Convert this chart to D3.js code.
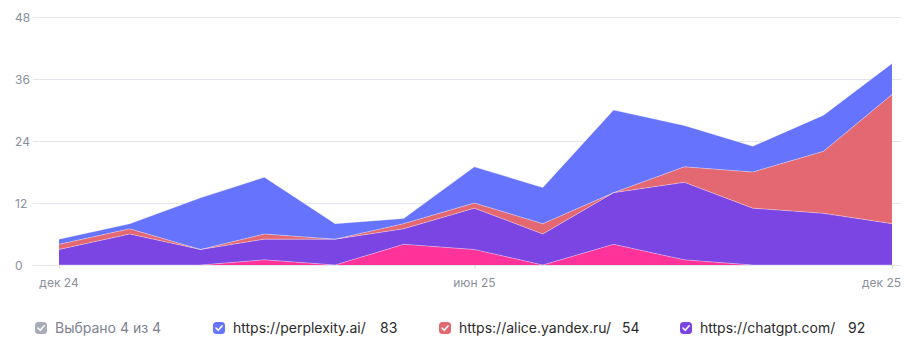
<!DOCTYPE html>
<html>
<head>
<meta charset="utf-8">
<script src="https://cdn.jsdelivr.net/npm/d3@7"></script>
<style>
  html, body { margin: 0; padding: 0; background: #fff; }
  svg { display: block; font-family: Inter, "Noto Sans", sans-serif; }
</style>
</head>
<body>
<svg id="chart" width="912" height="349"></svg>
<script>
// Monthly points, dec 24 .. dec 25
const months = ["2024-12","2025-01","2025-02","2025-03","2025-04","2025-05","2025-06",
                "2025-07","2025-08","2025-09","2025-10","2025-11","2025-12"];
// Series, stacked bottom to top
const other      = [0, 0, 0, 1, 0, 4, 3, 0, 4, 1, 0, 0, 0];
const chatgpt    = [3, 6, 3, 4, 5, 3, 8, 6, 10, 15, 11, 10, 8];
const alice      = [1, 1, 0, 1, 0, 1, 1, 2, 0, 3, 7, 12, 25];
const perplexity = [1, 1, 10, 11, 3, 1, 7, 7, 16, 8, 5, 7, 6];

const yTicks = [0, 12, 24, 36, 48];
const xTickLabels = ["дек 24", "июн 25", "дек 25"];
const xTickMonths = ["2024-12", "2025-06", "2025-12"];

const seriesKeys = ["other", "chatgpt", "alice", "perplexity"];
const seriesColors = { other: "#ff3399", chatgpt: "#7a45e3", alice: "#e46872", perplexity: "#6674fd" };

const legendItems = [
  { key: "perplexity", label: "https://perplexity.ai/", total: 83 },
  { key: "alice", label: "https://alice.yandex.ru/", total: 54 },
  { key: "chatgpt", label: "https://chatgpt.com/", total: 92 }
];

const parse = d3.timeParse("%Y-%m");
const rows = months.map((m, i) => ({
  date: parse(m), other: other[i], chatgpt: chatgpt[i], alice: alice[i], perplexity: perplexity[i]
}));

const svg = d3.select("#chart");
const x = d3.scaleTime().domain([parse(months[0]), parse(months[months.length - 1])]).range([59, 892]);
const y = d3.scaleLinear().domain([0, 48]).range([265, 17]);

// Horizontal grid
const grid = svg.append("g");
grid.selectAll("line").data(yTicks).join("line")
  .attr("x1", 33).attr("x2", 901)
  .attr("y1", d => y(d) + 0.5).attr("y2", d => y(d) + 0.5)
  .attr("stroke", "#e5e5ee").attr("stroke-width", 1);
grid.selectAll("text").data(yTicks).join("text")
  .attr("x", 15).attr("y", d => y(d) + 4.5)
  .attr("fill", "#8a8f9c").attr("font-size", 12)
  .text(d => d);

// Stacked areas
const stack = d3.stack().keys(seriesKeys);
const layers = stack(rows);
const area = d3.area()
  .x(d => x(d.data.date))
  .y0(d => y(d[0]))
  .y1(d => y(d[1]));
const edge = d3.line()
  .x(d => x(d.data.date))
  .y(d => y(d[1]));

svg.append("g").selectAll("path").data(layers).join("path")
  .attr("d", area)
  .attr("fill", d => seriesColors[d.key]);
// Thin light seams along each layer's top edge
svg.append("g").selectAll("path").data(layers).join("path")
  .attr("d", edge)
  .attr("fill", "none")
  .attr("stroke", "rgba(255,255,255,0.35)")
  .attr("stroke-width", 1);

// X axis ticks and labels
const xg = svg.append("g");
xg.selectAll("line").data(xTickMonths).join("line")
  .attr("x1", d => x(parse(d)) + 0.5).attr("x2", d => x(parse(d)) + 0.5)
  .attr("y1", 265).attr("y2", 269)
  .attr("stroke", "#dcdce6");
xg.selectAll("text").data(xTickMonths).join("text")
  .attr("x", d => x(parse(d)))
  .attr("y", 287)
  .attr("text-anchor", (d, i) => i === xTickMonths.length - 1 ? "end" : "middle")
  .attr("dx", (d, i) => i === xTickMonths.length - 1 ? 9 : 0)
  .attr("fill", "#8a8f9c").attr("font-size", 12)
  .text((d, i) => xTickLabels[i]);

// Legend
function checkbox(g, cx, cy, color) {
  g.append("rect").attr("x", cx - 6).attr("y", cy - 6).attr("width", 12).attr("height", 12)
    .attr("rx", 3.5).attr("fill", color);
  g.append("path").attr("d", `M${cx - 3},${cy} L${cx - 0.8},${cy + 2.3} L${cx + 3.2},${cy - 2.2}`)
    .attr("fill", "none").attr("stroke", "#fff").attr("stroke-width", 1.6)
    .attr("stroke-linecap", "round").attr("stroke-linejoin", "round");
}
const legend = svg.append("g").attr("font-size", 14);
const ly = 328;
checkbox(legend, 41, ly, "#a8abb8");
legend.append("text").attr("x", 55).attr("y", ly + 5).attr("fill", "#7d8190").text("Выбрано 4 из 4");

const legendPos = [
  { box: 219, text: 233, num: 380 },
  { box: 445, text: 459, num: 622 },
  { box: 686, text: 700, num: 848 }
];
legendItems.forEach((item, i) => {
  const p = legendPos[i];
  checkbox(legend, p.box, ly, seriesColors[item.key]);
  legend.append("text").attr("x", p.text).attr("y", ly + 5).attr("fill", "#2b2b2b")
    .text(item.label);
  legend.append("text").attr("x", p.num).attr("y", ly + 5).attr("fill", "#2b2b2b")
    .text(item.total);
});
</script>
</body>
</html>
